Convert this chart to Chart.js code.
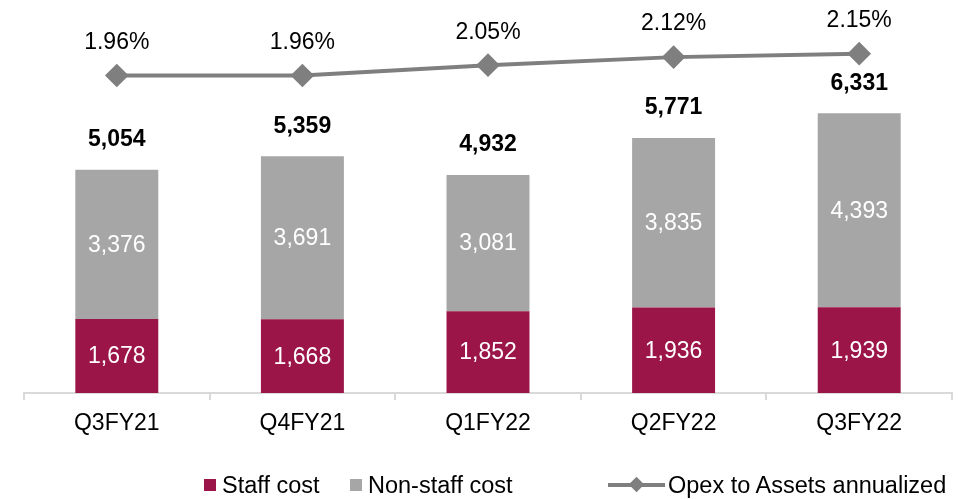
<!DOCTYPE html>
<html>
<head>
<meta charset="utf-8">
<script src="https://cdn.jsdelivr.net/npm/chart.js@4/dist/chart.umd.min.js"></script>
<style>
  html, body { margin: 0; padding: 0; background: #fff; }
  #wrap { position: relative; width: 971px; height: 499px; font-family: "Liberation Sans", Arial, sans-serif; }
  canvas { position: absolute; left: 0; top: 0; }
  .legend { position: absolute; top: 472px; font-size: 23.5px; color: #000; line-height: 26px; white-space: nowrap; }
  .sw { position: absolute; width: 12px; height: 12px; top: 7px; }
  .ln { position: absolute; top: 11px; height: 4px; background: #7f7f7f; }
  .dm { position: absolute; width: 11px; height: 11px; background: #7f7f7f; transform: rotate(45deg); top: 7px; }
</style>
</head>
<body>
<div id="wrap">
  <canvas id="c" width="971" height="499"></canvas>
  <div class="legend" style="left:204px"><span class="sw" style="left:0;background:#9b1548"></span><span style="position:absolute;left:18px">Staff cost</span></div>
  <div class="legend" style="left:350px"><span class="sw" style="left:0;background:#a6a6a6"></span><span style="position:absolute;left:18px">Non-staff cost</span></div>
  <div class="legend" style="left:608px"><span class="ln" style="left:0;width:57px"></span><span class="dm" style="left:23px"></span><span style="position:absolute;left:60px">Opex to Assets annualized</span></div>
</div>
<script>
const quarters = ['Q3FY21', 'Q4FY21', 'Q1FY22', 'Q2FY22', 'Q3FY22'];
const staffCost = [1678, 1668, 1852, 1936, 1939];
const nonStaffCost = [3376, 3691, 3081, 3835, 4393];
const totalOpex = [5054, 5359, 4932, 5771, 6331];
const opexToAssets = [1.96, 1.96, 2.05, 2.12, 2.15];

const fmt = (v) => v.toLocaleString('en-US');
const FONT = '"Liberation Sans", Arial, sans-serif';

// draws the value labels: inside bars, totals above stacks, % above line points
const labelsPlugin = {
  id: 'labels',
  afterDatasetsDraw(chart) {
    const { ctx } = chart;
    ctx.save();
    ctx.textAlign = 'center';
    ctx.textBaseline = 'middle';
    [0, 1].forEach((di) => {
      const meta = chart.getDatasetMeta(di);
      const vals = chart.data.datasets[di].data;
      ctx.fillStyle = '#ffffff';
      ctx.font = `23px ${FONT}`;
      meta.data.forEach((bar, i) => {
        ctx.fillText(fmt(vals[i]), bar.x, (bar.y + bar.base) / 2 + 1);
      });
    });
    const top = chart.getDatasetMeta(1);
    ctx.fillStyle = '#000000';
    ctx.font = `bold 23px ${FONT}`;
    top.data.forEach((bar, i) => {
      ctx.fillText(fmt(totalOpex[i]), bar.x, bar.y - 30);
    });
    const line = chart.getDatasetMeta(2);
    ctx.font = `23px ${FONT}`;
    line.data.forEach((pt, i) => {
      ctx.fillText(opexToAssets[i].toFixed(2) + '%', pt.x, pt.y - 33);
    });
    ctx.restore();
  },
};

new Chart(document.getElementById('c'), {
  data: {
    labels: quarters,
    datasets: [
      {
        type: 'bar',
        label: 'Staff cost',
        data: staffCost,
        backgroundColor: '#9b1548',
        stack: 'opex',
        yAxisID: 'y',
        order: 2,
      },
      {
        type: 'bar',
        label: 'Non-staff cost',
        data: nonStaffCost,
        backgroundColor: '#a6a6a6',
        stack: 'opex',
        yAxisID: 'y',
        order: 2,
      },
      {
        type: 'line',
        label: 'Opex to Assets annualized',
        data: opexToAssets,
        borderColor: '#7f7f7f',
        backgroundColor: '#7f7f7f',
        borderWidth: 4,
        pointStyle: 'rectRot',
        pointRadius: 9,
        pointHoverRadius: 9,
        tension: 0,
        yAxisID: 'y2',
        order: 1,
      },
    ],
  },
  options: {
    responsive: false,
    animation: false,
    datasets: { bar: { categoryPercentage: 1, barPercentage: 0.447 } },
    layout: { padding: { top: 0, left: 24, right: 19, bottom: 0 } },
    plugins: { legend: { display: false }, tooltip: { enabled: false } },
    scales: {
      x: {
        stacked: true,
        offset: true,
        grid: { offset: true, drawOnChartArea: false, drawTicks: true, tickLength: 7, color: '#d9d9d9', lineWidth: 2 },
        border: { color: '#d9d9d9', width: 2 },
        ticks: { color: '#000', font: { family: FONT, size: 23 }, padding: 10 },
        afterFit: (scale) => { scale.height = 106; },
      },
      y: { stacked: true, display: false, min: 0, max: 8603 },
      y2: { display: false, min: -0.803, max: 2.504 },
    },
  },
  plugins: [labelsPlugin],
});
</script>
</body>
</html>
